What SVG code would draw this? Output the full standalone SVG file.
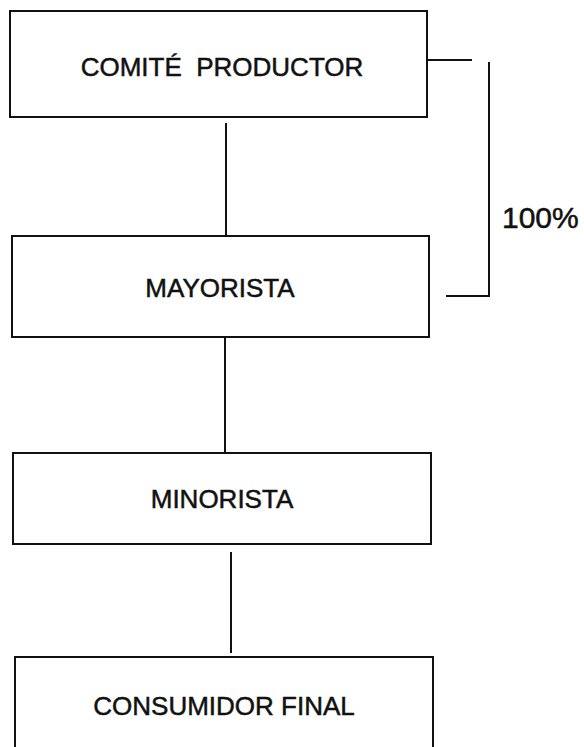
<svg xmlns="http://www.w3.org/2000/svg" width="584" height="747" viewBox="0 0 584 747">
<style>
.box{fill:#fff;stroke:#111;stroke-width:2}
.lbl{font-family:"Liberation Sans",Arial,sans-serif;font-size:26px;fill:#111;stroke:#111;stroke-width:0.5;text-anchor:middle}
.ln{stroke:#111;stroke-width:2;fill:none}
</style>
<rect width="584" height="747" fill="#fff"/>
<g id="connectors">
<line class="ln" x1="226" y1="123" x2="226" y2="236"/>
<line class="ln" x1="225" y1="337" x2="225" y2="453"/>
<line class="ln" x1="231" y1="552" x2="231" y2="653"/>
<line class="ln" x1="427" y1="60" x2="472" y2="60"/>
<polyline class="ln" points="489,62 489,296 446,296"/>
</g>
<g id="comite">
<rect class="box" x="10" y="11" width="417" height="106"/>
<text class="lbl" x="222" y="76" xml:space="preserve">COMITÉ  PRODUCTOR</text>
</g>
<g id="mayorista">
<rect class="box" x="12" y="236" width="417" height="101"/>
<text class="lbl" x="220" y="297">MAYORISTA</text>
</g>
<g id="minorista">
<rect class="box" x="13" y="453" width="418" height="91"/>
<text class="lbl" x="222" y="508">MINORISTA</text>
</g>
<g id="consumidor">
<rect class="box" x="15" y="657" width="418" height="110"/>
<text class="lbl" x="224" y="715">CONSUMIDOR FINAL</text>
</g>
<g id="pct">
<text x="502" y="228" style="font-family:'Liberation Sans',Arial,sans-serif;font-size:30px;fill:#111;stroke:#111;stroke-width:0.5">100%</text>
</g>
</svg>
